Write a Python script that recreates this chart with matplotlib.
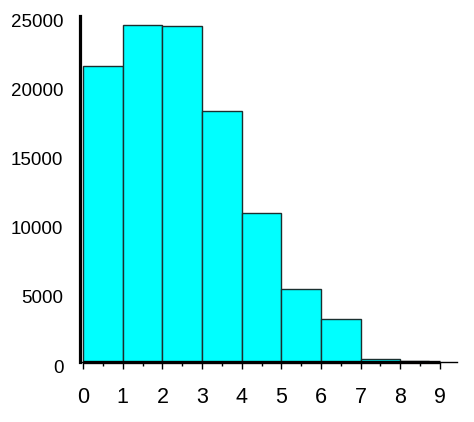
import matplotlib.pyplot as plt
from matplotlib.ticker import MultipleLocator
import matplotlib.transforms as mtransforms

# histogram bins and counts
bin_edges = [0, 1, 2, 3, 4, 5, 6, 7, 8, 8.72, 9]
counts = [21400, 24350, 24300, 18150, 10800, 5250, 3100, 220, 90, 40]
xticks = list(range(10))
yticks = [0, 5000, 10000, 15000, 20000, 25000]

plt.rcParams['font.family'] = ['Liberation Sans', 'DejaVu Sans']

fig = plt.figure(figsize=(4.74, 4.22), dpi=100)
ax = fig.add_axes([0.169, 0.142, 0.795, 0.820])

lefts = bin_edges[:-1]
widths = [b - a for a, b in zip(bin_edges[:-1], bin_edges[1:])]
ax.bar(lefts, counts, width=widths, align='edge', color='#00ffff',
       edgecolor='#1b2f2f', linewidth=1.0, zorder=2)
ax.plot([bin_edges[0], bin_edges[-1]], [0, 0], color='black', lw=2.4,
        solid_capstyle='butt', zorder=3, clip_on=False)

ax.set_xlim(-0.076, 9.43)
ax.set_ylim(0, 25000)

ax.spines['top'].set_visible(False)
ax.spines['right'].set_visible(False)
ax.spines['left'].set_linewidth(2.3)
ax.spines['bottom'].set_linewidth(1.0)

ax.set_xticks(xticks)
ax.xaxis.set_minor_locator(MultipleLocator(0.5))
ax.tick_params(axis='x', which='major', direction='out', length=5, width=1.0,
               labelsize=15.5, pad=13)
ax.tick_params(axis='x', which='minor', direction='out', length=3, width=1.0)
ax.set_yticks(yticks)
ax.tick_params(axis='y', length=0, labelsize=13.5, pad=12)

offset = mtransforms.ScaledTranslation(0, -4 / 100, fig.dpi_scale_trans)
for lab in ax.get_yticklabels():
    lab.set_transform(lab.get_transform() + offset)

fig.savefig('out.png', dpi=100)
